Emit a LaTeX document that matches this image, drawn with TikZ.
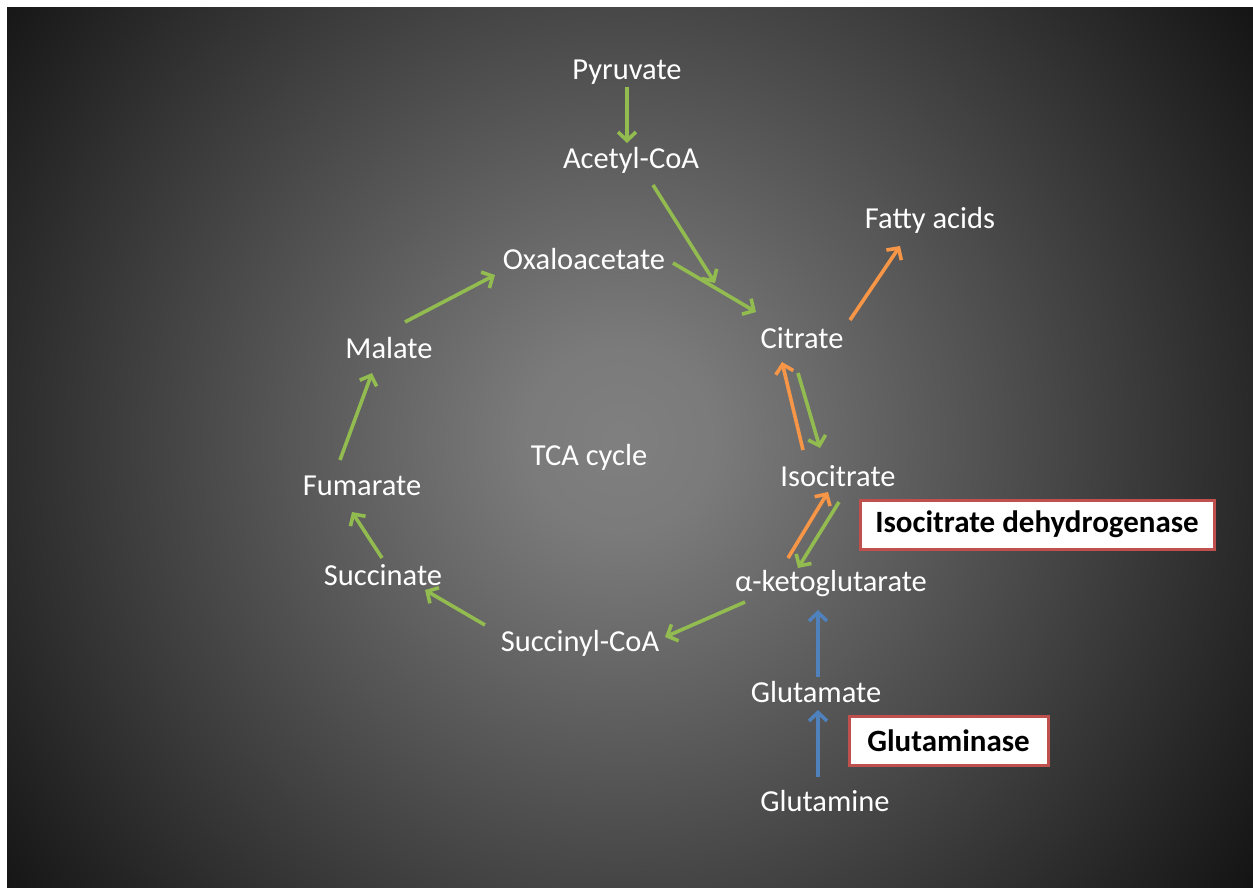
\documentclass[tikz,border=0pt]{standalone}
\usepackage{fontspec}
\setmainfont{Carlito}
\usetikzlibrary{arrows.meta,calc}
\definecolor{tcgreen}{HTML}{92BB50}
\definecolor{tcorange}{HTML}{F79646}
\definecolor{tcblue}{HTML}{4F81BD}
\definecolor{tcred}{HTML}{C0504D}
\pgfdeclareradialshading{bgrad}{\pgfpoint{0bp}{0bp}}{rgb(0bp)=(0.50,0.50,0.50); rgb(3bp)=(0.48,0.48,0.48); rgb(24bp)=(0.08,0.08,0.08); rgb(25bp)=(0.07,0.07,0.07); rgb(50bp)=(0.07,0.07,0.07)}
\tikzset{
  lab/.style={text=white, font=\fontsize{30.5}{36}\selectfont, inner sep=0pt},
  enz/.style={draw=tcred, line width=3pt, fill=white, text=black, font=\fontsize{31}{36}\bfseries\selectfont, inner sep=0pt},
  arr/.style={line width=3.6pt, -{Straight Barb[length=8.5pt,width=18pt]}},
  garr/.style={arr, draw=tcgreen},
  oarr/.style={arr, draw=tcorange},
  barr/.style={arr, draw=tcblue}
}
\begin{document}
\begin{tikzpicture}[x=1pt,y=-1pt]
\useasboundingbox (0,0) rectangle (1253,888);
\fill[white] (0,0) rectangle (1253,888);
\begin{scope}
  \clip (7,8) rectangle (1253,888);
  \fill[black!92] (7,8) rectangle (1253,888);
  \shade[shading=bgrad] (620,440) circle (800pt);
\end{scope}

\node[lab] (pyr) at (627,72) {Pyruvate};
\node[lab] (acc) at (631,160) {Acetyl-CoA};
\node[lab] (fat) at (930,220) {Fatty acids};
\node[lab] (oxa) at (584,259) {Oxaloacetate};
\node[lab] (cit) at (802,338) {Citrate};
\node[lab] (mal) at (389,348) {Malate};
\node[lab] (tca) at (589,457) {TCA cycle};
\node[lab] (iso) at (838,476) {Isocitrate};
\node[lab] (fum) at (362,486) {Fumarate};
\node[lab] (suc) at (383,575) {Succinate};
\node[lab] (akg) at (831,584) {α-ketoglutarate};
\node[lab] (sca) at (580,643) {Succinyl-CoA};
\node[lab] (glu) at (816,692) {Glutamate};
\node[lab] (gln) at (825,801) {Glutamine};

\node[enz, minimum width=354pt, minimum height=49pt] (idh) at (1037,524.5) {Isocitrate dehydrogenase};
\node[enz, minimum width=199pt, minimum height=49pt] (gls) at (948.5,740.5) {Glutaminase};

\draw[garr] ($(pyr)+(0,15)$) -- ($(acc)+(-4,-17)$);
\draw[garr] ($(acc)+(22,25)$) -- ($(cit)+(-87,-55)$);
\draw[garr] ($(oxa)+(89,4)$) -- ($(cit)+(-46,-26)$);
\draw[oarr] ($(cit)+(48,-18)$) -- ($(fat)+(-30,26)$);
\draw[oarr] ($(iso)+(-35,-26)$) -- ($(cit)+(-20,24)$);
\draw[garr] ($(cit)+(-4,35)$) -- ($(iso)+(-18,-28)$);
\draw[oarr] ($(akg)+(-43,-26)$) -- ($(iso)+(-10,16)$);
\draw[garr] ($(iso)+(1,26)$) -- ($(akg)+(-33,-16)$);
\draw[garr] ($(akg)+(-86,18)$) -- ($(sca)+(85,-6)$);
\draw[garr] ($(sca)+(-95,-18)$) -- ($(suc)+(42,15)$);
\draw[garr] ($(suc)+(-1,-17)$) -- ($(fum)+(-10,26)$);
\draw[garr] ($(fum)+(-22,-26)$) -- ($(mal)+(-17,25)$);
\draw[garr] ($(mal)+(16,-26)$) -- ($(oxa)+(-89,16)$);
\draw[barr] ($(glu)+(2,-15)$) -- ($(akg)+(-13,26)$);
\draw[barr] ($(gln)+(-7,-24)$) -- ($(glu)+(2,18)$);
\end{tikzpicture}
\end{document}
